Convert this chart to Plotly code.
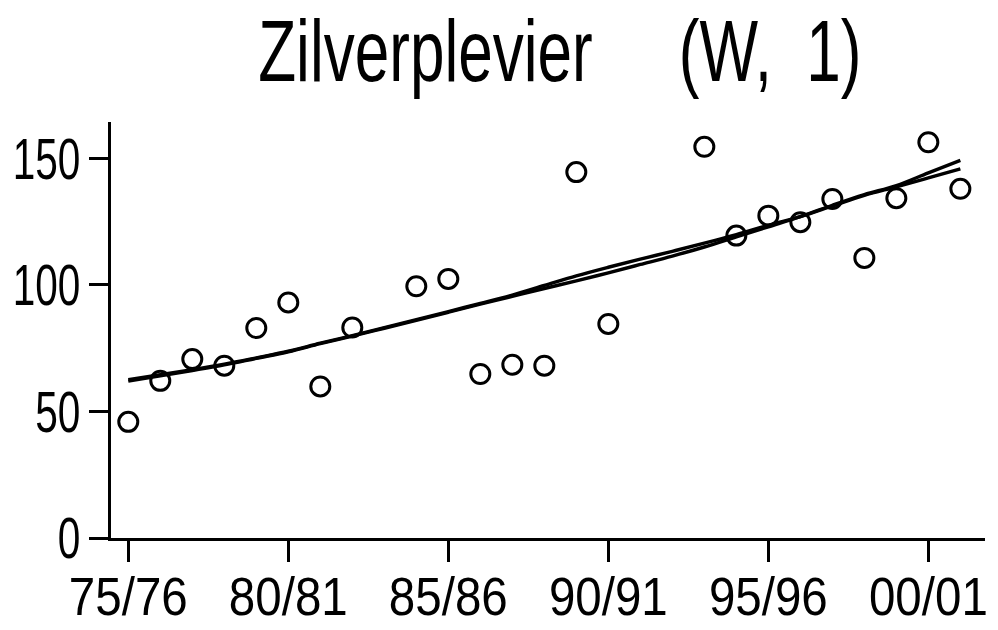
import plotly.graph_objects as go

seasons = ["75/76", "76/77", "77/78", "78/79", "79/80", "80/81", "81/82", "82/83", "83/84",
           "84/85", "85/86", "86/87", "87/88", "88/89", "89/90", "90/91", "91/92", "92/93",
           "93/94", "94/95", "95/96", "96/97", "97/98", "98/99", "99/00", "00/01", "01/02"]

counts = [45.9, 62.1, 70.7, 68.1, 83.0, 93.1, 59.9, 83.2, None,
          99.5, 102.4, 64.8, 68.5, 68.1, 144.6, 84.6, None, None,
          154.6, 119.5, 127.4, 124.8, 134.0, 110.7, 134.3, 156.4, 138.0]

fit_a = [62.0, 64.1, 66.2, 68.4, 71.0, 73.6, 76.8, 79.8, 82.9, 86.0, 89.2, 92.4, 95.5, 98.6,
         101.6, 104.8, 108.1, 111.4, 115.0, 119.0, 123.0, 127.0, 131.5, 135.7, 139.3, 144.3, 149.2]
fit_b = [62.6, 64.5, 66.5, 68.7, 71.2, 73.8, 77.0, 80.0, 83.1, 86.3, 89.5, 92.7, 96.0, 99.8,
         103.6, 107.0, 110.2, 113.3, 116.5, 119.9, 123.6, 127.0, 131.2, 135.4, 138.8, 142.3, 145.9]

tick_labels = ["75/76", "80/81", "85/86", "90/91", "95/96", "00/01"]
y_ticks = [0, 50, 100, 150]

FONT = "Liberation Sans, Arial, sans-serif"

fig = go.Figure()
for fit in (fit_a, fit_b):
    fig.add_trace(go.Scatter(x=seasons, y=fit, mode="lines",
                             line=dict(color="black", width=3.4, shape="spline"),
                             hoverinfo="skip", showlegend=False))
fig.add_trace(go.Scatter(x=seasons, y=counts, mode="markers",
                         marker=dict(symbol="circle-open", size=19, color="black",
                                     line=dict(width=3, color="black")),
                         showlegend=False))

fig.update_layout(
    template="none",
    width=998, height=630,
    margin=dict(l=111, r=13, t=122, b=92),
    paper_bgcolor="white", plot_bgcolor="white",
    font=dict(family=FONT, color="black"),
    title=dict(text="Zilverplevier     (W,  1)", x=0.561, xanchor="center",
               y=0.969, yanchor="top", font=dict(size=88, family=FONT, color="black")),
)
fig.update_xaxes(type="category", categoryorder="array", categoryarray=seasons,
                 range=[-0.54, 26.77], tickvals=tick_labels, ticktext=tick_labels,
                 automargin=False,
                 showgrid=False, zeroline=False, showline=True, linecolor="black", linewidth=3,
                 ticks="outside", ticklen=21, tickwidth=3, tickcolor="black",
                 ticklabelstandoff=-12, tickfont=dict(size=54, family=FONT, color="black"))
fig.update_yaxes(range=[0, 164.4], tickvals=y_ticks, showgrid=False, zeroline=False,
                 automargin=False,
                 showline=True, linecolor="black", linewidth=3,
                 ticks="outside", ticklen=19, tickwidth=3, tickcolor="black",
                 ticklabelstandoff=-3, tickfont=dict(size=58, family=FONT, color="black"))

post = """
document.documentElement.style.margin = '0';
document.body.style.margin = '0';
document.body.style.overflow = 'hidden';
var gd = document.getElementById('{plot_id}');
function condense(sel, f) {
  gd.querySelectorAll(sel).forEach(function (t) {
    var w = t.getComputedTextLength();
    t.setAttribute('textLength', (w * f).toFixed(1));
    t.setAttribute('lengthAdjust', 'spacingAndGlyphs');
  });
}
condense('.xtick text', 0.88);
condense('.ytick text', 0.70);
condense('text.gtitle', 0.705);
"""

fig.write_html("out.html", post_script=post, config={"displayModeBar": False})
